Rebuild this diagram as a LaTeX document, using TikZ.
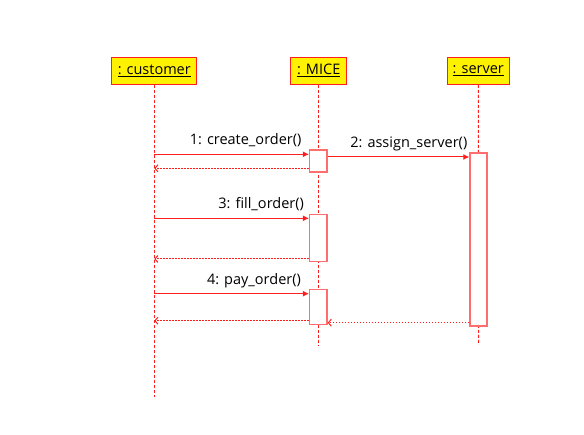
\documentclass[tikz,border=0pt]{standalone}
\usepackage{fontspec}
\setmainfont{Open Sans}
\usepackage{tikz}
\usetikzlibrary{arrows.meta}
\definecolor{seqred}{RGB}{255,30,30}
\definecolor{actred}{RGB}{255,110,110}
\tikzset{
	objbox/.style={draw=seqred, line width=1.3pt, fill=yellow, minimum height=27pt, inner xsep=4pt, font=\fontsize{14.5}{17}\selectfont},
	lifeline/.style={seqred, line width=1pt, dash pattern=on 3pt off 2pt},
	actbox/.style={draw=actred, line width=1.4pt, fill=white},
	callmsg/.style={seqred, line width=1pt, -{Latex[length=6pt,width=6pt]}},
	retmsg/.style={seqred, line width=1pt, dash pattern=on 1.5pt off 1.5pt, -{Straight Barb[length=3pt,width=7pt]}},
	msglabel/.style={text=black, font=\fontsize{14.5}{17}\selectfont, anchor=base east, inner sep=0pt}
}

\begin{document}
\begin{tikzpicture}[x=1pt,y=-1pt]
			\useasboundingbox (0,0) rectangle (584,435);
			% objects
			\node[objbox, minimum width=85pt] (cust) at (154.3,70.8) {\underline{: customer}};
			\node[objbox, minimum width=56pt] (mice) at (318.7,70.8) {\underline{: MICE}};
			\node[objbox, minimum width=62pt] (serv) at (478.3,70.8) {\underline{: server}};
			% lifelines
			\coordinate (custend) at (154.3,397);
			\coordinate (miceend) at (318.7,345);
			\coordinate (servend) at (478.7,345);
			\draw[lifeline] (cust.south) -- (custend);
			\draw[lifeline] (mice.south) -- (miceend);
			\draw[lifeline] (serv.south) -- (servend);
			% activations
			\node[actbox, minimum width=17.4pt, minimum height=22pt, inner sep=0pt] (act1) at (318.3,161) {};
			\node[actbox, minimum width=17.4pt, minimum height=47.4pt, inner sep=0pt] (act2) at (318.3,238) {};
			\node[actbox, minimum width=17.4pt, minimum height=35pt, inner sep=0pt] (act3) at (318.3,306.8) {};
			\node[actbox, minimum width=17pt, minimum height=173pt, inner sep=0pt] (actsrv) at (478.5,239.5) {};
			% messages
			\coordinate (c1) at (154.3,154.3);
			\coordinate (r1) at (154.3,168.3);
			\coordinate (c3) at (154.3,218.3);
			\coordinate (r3) at (154.3,259);
			\coordinate (c4) at (154.3,293.7);
			\coordinate (r4) at (154.3,320.7);
			\draw[callmsg] (c1) -- (c1 -| act1.west) node[msglabel, pos=1, xshift=-7pt, yshift=9.5pt] (m1) {1: create\_order()};
			\draw[retmsg] (r1 -| act1.west) -- (r1);
			\draw[callmsg] (act1.east |- 0,157) -- (actsrv.west |- 0,157) node[msglabel, pos=1, xshift=-1.5pt, yshift=9.5pt] (m2) {2: assign\_server()};
			\draw[callmsg] (c3) -- (c3 -| act2.west) node[msglabel, pos=1, xshift=-4.5pt, yshift=9.5pt] (m3) {3: fill\_order()};
			\draw[retmsg] (r3 -| act2.west) -- (r3);
			\draw[callmsg] (c4) -- (c4 -| act3.west) node[msglabel, pos=1, xshift=-7.5pt, yshift=9pt] (m4) {4: pay\_order()};
			\draw[retmsg] (r4 -| act3.west) -- (r4);
			\draw[retmsg] (actsrv.west |- 0,322.7) -- (act3.east |- 0,322.7);
		\end{tikzpicture}
\end{document}
